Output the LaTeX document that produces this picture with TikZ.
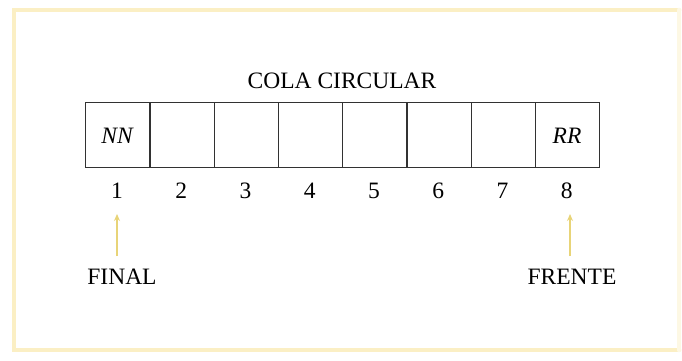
\documentclass[tikz,border=0pt]{standalone}
\usepackage{fontspec}
\setmainfont{Liberation Serif}
\usetikzlibrary{arrows.meta}
\definecolor{framey}{RGB}{251,239,196}
\definecolor{framefaint}{RGB}{253,248,228}
\definecolor{arrowy}{RGB}{232,212,120}
\definecolor{boxline}{RGB}{50,50,50}
\tikzset{
  txt/.style={font=\fontsize{23.5}{28}\selectfont, inner sep=0pt, anchor=base},
  cell/.style={draw=boxline, line width=1.3pt, minimum width=64.25pt, minimum height=65pt, inner sep=0pt, anchor=north west},
  ptr/.style={draw=arrowy, line width=1.4pt, -{Stealth[length=7pt,width=6pt]}},
  border/.style={line width=4.5pt, line cap=round},
}
\begin{document}
\begin{tikzpicture}[x=1pt,y=-1pt]
\useasboundingbox (0,0) rectangle (682,360);
\fill[white] (0,0) rectangle (682,360);
\coordinate (ftl) at (14,10);
\coordinate (ftr) at (679,10);
\coordinate (fbl) at (14,350);
\coordinate (fbr) at (679,350);
\draw[border, framey] (ftr) -- (ftl) -- (fbl) -- (fbr);
\draw[border, framefaint] (ftr) -- (fbr);
\node[txt] (title) at (342,88) {COLA CIRCULAR};
\foreach \i in {1,...,8}{
  \node[cell] (c\i) at ({85+64.25*(\i-1)},102) {};
  \node[txt] (n\i) at ({117.1+64.25*(\i-1)},198) {\i};
}
\node[txt] (nn) at (117.1,143) {\itshape NN};
\node[txt] (rr) at (567,143) {\itshape RR};
\node[txt] (final) at (122,284) {FINAL};
\node[txt] (frente) at (572,284) {FRENTE};
\coordinate (t1) at (117,256);
\coordinate (h1) at (117,214);
\coordinate (t8) at (570,256);
\coordinate (h8) at (570,214);
\draw[ptr] (t1) -- (h1);
\draw[ptr] (t8) -- (h8);
\end{tikzpicture}
\end{document}
